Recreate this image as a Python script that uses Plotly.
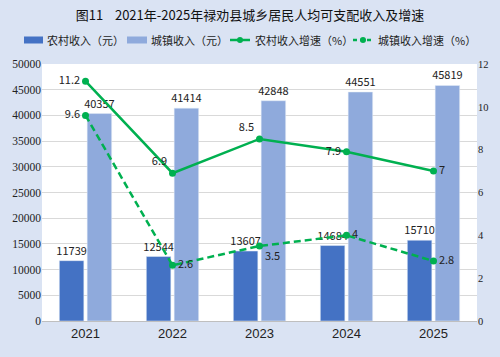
import plotly.graph_objects as go

years = ["2021", "2022", "2023", "2024", "2025"]
rural_income = [11739, 12544, 13607, 14684, 15710]
urban_income = [40357, 41414, 42848, 44551, 45819]
rural_growth = [11.2, 6.9, 8.5, 7.9, 7]
urban_growth = [9.6, 2.6, 3.5, 4, 2.8]
series_names = ["农村收入（元）", "城镇收入（元）", "农村收入增速（%）", "城镇收入增速（%）"]

rural_growth_pos = ["middle left", "top left", "top left", "middle left", "middle right"]
urban_growth_pos = ["middle left", "middle right", "bottom right", "middle right", "middle right"]

green = "#00B050"
dark_blue = "#4472C4"
light_blue = "#8FAADC"
dash_style = "7px,4px"

W, H = 500, 357
L, R, T, B = 42, 23, 64, 36
PW, PH = W - L - R, H - T - B

def px(x):
    return (x - L) / PW

def py(y):
    return (H - B - y) / PH

fig = go.Figure()
fig.add_trace(go.Bar(name=series_names[0], x=years, y=rural_income, marker_color=dark_blue,
                     text=[str(v) for v in rural_income], textposition="outside",
                     constraintext="none",
                     textfont=dict(size=11, color="#222"), cliponaxis=False))
fig.add_trace(go.Bar(name=series_names[1], x=years, y=urban_income, marker_color=light_blue,
                     text=[str(v) for v in urban_income], textposition="outside",
                     constraintext="none",
                     textfont=dict(size=11, color="#222"), cliponaxis=False))
fig.add_trace(go.Scatter(name=series_names[2], x=years, y=rural_growth, yaxis="y2",
                         mode="lines+markers+text", line=dict(color=green, width=2.5),
                         marker=dict(size=7, color=green),
                         text=[str(v) for v in rural_growth], textposition=rural_growth_pos,
                         textfont=dict(size=11, color="#222"), cliponaxis=False))
fig.add_trace(go.Scatter(name=series_names[3], x=years, y=urban_growth, yaxis="y2",
                         mode="lines+markers+text", line=dict(color=green, width=2.5, dash=dash_style),
                         marker=dict(size=7, color=green),
                         text=[str(v) for v in urban_growth], textposition=urban_growth_pos,
                         textfont=dict(size=11, color="#222"), cliponaxis=False))

# manual legend
shapes = []
annotations = []
ly = 40
for x0, x1, col in [(24, 43, dark_blue), (127, 147, light_blue)]:
    shapes.append(dict(type="rect", xref="paper", yref="paper",
                       x0=px(x0), x1=px(x1), y0=py(ly + 3.5), y1=py(ly - 3.5),
                       fillcolor=col, line=dict(width=0)))
for x0, x1, dash in [(230, 250, "solid"), (353, 373, "4px,3px")]:
    shapes.append(dict(type="line", xref="paper", yref="paper",
                       x0=px(x0), x1=px(x1), y0=py(ly), y1=py(ly),
                       line=dict(color=green, width=2.5, dash=dash)))
    shapes.append(dict(type="circle", xref="paper", yref="paper",
                       x0=px((x0 + x1) / 2 - 3), x1=px((x0 + x1) / 2 + 3),
                       y0=py(ly + 3), y1=py(ly - 3), fillcolor=green, line=dict(width=0)))
for xs, name in zip([45, 149, 253, 376], series_names):
    annotations.append(dict(text=name, xref="paper", yref="paper", x=px(xs), y=py(ly),
                            xanchor="left", yanchor="middle", showarrow=False,
                            font=dict(size=11, color="#222")))

fig.update_layout(
    width=W, height=H, showlegend=False,
    paper_bgcolor="#DAE3F3", plot_bgcolor="white",
    margin=dict(l=L, r=R, t=T, b=B),
    barmode="group", bargap=0.36, bargroupgap=0.12,
    font=dict(family="Noto Sans CJK SC, sans-serif", size=11, color="#222"),
    title=dict(text="图11    2021年-2025年禄劝县城乡居民人均可支配收入及增速",
               x=0.5, xanchor="center", y=1 - 15 / H, yanchor="middle",
               font=dict(size=13, color="#111")),
    shapes=shapes, annotations=annotations,
    xaxis=dict(tickfont=dict(size=13, family="Liberation Sans, sans-serif"),
               showline=True, linecolor="#BFBFBF", ticks=""),
    yaxis=dict(range=[0, 50000], dtick=5000, gridcolor="#D9D9D9", tickformat="d",
               tickfont=dict(family="Liberation Serif", size=11.5), zeroline=False),
    yaxis2=dict(range=[0, 12], dtick=2, overlaying="y", side="right", showgrid=False,
                tickfont=dict(family="Liberation Serif", size=10.5), zeroline=False),
)
fig.write_html("out.html")
